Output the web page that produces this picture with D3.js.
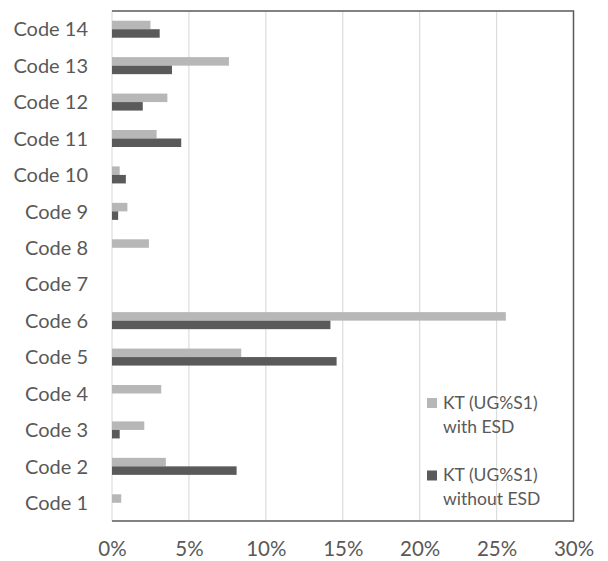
<!DOCTYPE html>
<html>
<head>
<meta charset="utf-8">
<script src="https://cdn.jsdelivr.net/npm/d3@7"></script>
<style>
  html, body { margin: 0; padding: 0; background: #fff; }
  svg { display: block; }
  text { font-family: Lato, "Open Sans", sans-serif; fill: #595959; }
</style>
</head>
<body>
<svg id="chart" width="608" height="561"></svg>
<script>
// Categories, top to bottom
const categories = ["Code 14", "Code 13", "Code 12", "Code 11", "Code 10", "Code 9", "Code 8",
                    "Code 7", "Code 6", "Code 5", "Code 4", "Code 3", "Code 2", "Code 1"];

// Shares (%) per category, same order as categories
const withESD    = [2.5, 7.6, 3.6, 2.9, 0.5, 1.0, 2.4, 0, 25.6, 8.4, 3.2, 2.1, 3.5, 0.6];
const withoutESD = [3.1, 3.9, 2.0, 4.5, 0.9, 0.4, 0,   0, 14.2, 14.6, 0, 0.5, 8.1, 0];

const seriesNames = ["KT (UG%S1)\nwith ESD", "KT (UG%S1)\nwithout ESD"];
const seriesColors = ["#b7b7b7", "#5a5a5a"];
const xTicks = [0, 5, 10, 15, 20, 25, 30];

const svg = d3.select("#chart");
const plot = { left: 112, right: 573.5, top: 11, bottom: 521 };

const x = d3.scaleLinear().domain([0, 30]).range([plot.left, plot.right]);
const y = d3.scaleBand().domain(categories)
  .range([plot.top, plot.bottom])
  .paddingInner(0.533).paddingOuter(0.2665);
const sub = d3.scaleBand().domain([0, 1]).range([0, y.bandwidth()]);

// vertical gridlines
svg.append("g").selectAll("line")
  .data(xTicks.slice(0, -1))
  .join("line")
  .attr("x1", d => x(d)).attr("x2", d => x(d))
  .attr("y1", plot.top).attr("y2", plot.bottom)
  .attr("stroke", "#dcdcdc").attr("stroke-width", 1.2);

// bars
const rows = categories.map((c, i) => ({ cat: c, vals: [withESD[i], withoutESD[i]] }));
const groups = svg.append("g").selectAll("g")
  .data(rows).join("g")
  .attr("transform", d => `translate(0,${y(d.cat)})`);
groups.selectAll("rect")
  .data(d => d.vals.map((v, k) => ({ v, k })))
  .join("rect")
  .attr("x", x(0))
  .attr("y", d => sub(d.k))
  .attr("width", d => x(d.v) - x(0))
  .attr("height", sub.bandwidth())
  .attr("fill", d => seriesColors[d.k]);

// plot frame: dark top, right and bottom edges
svg.append("path")
  .attr("d", `M${plot.left},${plot.top}H${plot.right}V${plot.bottom}H${plot.left}`)
  .attr("fill", "none").attr("stroke", "#595959").attr("stroke-width", 1.5);

// y-axis category labels
const yAxis = d3.axisLeft(y).tickSize(0).tickPadding(24);
const yg = svg.append("g").attr("transform", `translate(${plot.left},0)`).call(yAxis);
yg.select(".domain").remove();
yg.selectAll("text").attr("font-size", 20).attr("dy", "0.36em")
  .style("font-family", "Lato, sans-serif").attr("fill", "#595959");

// x-axis tick labels
const xAxis = d3.axisBottom(x).tickValues(xTicks).tickFormat(d => d + "%").tickSize(0).tickPadding(0);
const xg = svg.append("g").attr("transform", `translate(0,556)`).call(xAxis);
xg.select(".domain").remove();
xg.selectAll("text").attr("font-size", 20.5).attr("dy", 0).attr("y", 0)
  .style("font-family", "Lato, sans-serif").attr("fill", "#595959");

// legend
const legendY = [398, 470.5];
const legend = svg.append("g").selectAll("g")
  .data(seriesNames).join("g")
  .attr("transform", (d, i) => `translate(427,${legendY[i]})`);
legend.append("rect").attr("width", 10).attr("height", 10)
  .attr("fill", (d, i) => seriesColors[i]);
legend.append("text")
  .attr("font-size", 17.5)
  .selectAll("tspan")
  .data(d => d.split("\n"))
  .join("tspan")
  .attr("x", 16)
  .attr("y", (d, j) => 10.5 + j * 24)
  .text(d => d);
</script>
</body>
</html>
